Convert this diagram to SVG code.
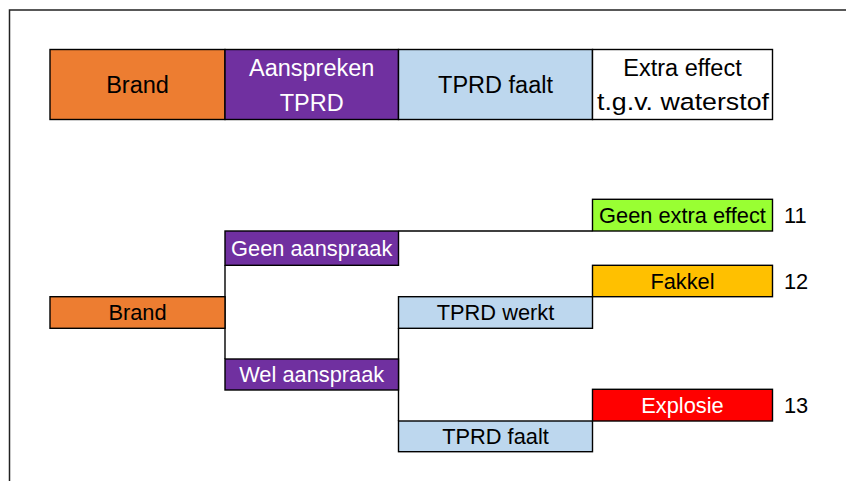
<svg xmlns="http://www.w3.org/2000/svg" width="846" height="481" viewBox="0 0 846 481">
<style>
.b{stroke:#000;stroke-width:1.4}
.t{font-family:"Liberation Sans",Arial,sans-serif;text-anchor:middle;fill:#000}
.h{font-size:23.5px}
.s{font-size:21.8px}
.w{fill:#fff}
.c{fill:none;stroke:#000;stroke-width:1.4}
</style>
<rect width="846" height="481" fill="#fff"/>
<path d="M9.5 481V10H846" fill="none" stroke="#222" stroke-width="1.5"/>
<g id="h-brand"><rect class="b" x="50" y="49.5" width="175" height="70" fill="#ED7D31"/><text class="t h" x="137.5" y="93">Brand</text></g>
<g id="h-aanspreken"><rect class="b" x="225" y="49.5" width="173.5" height="70" fill="#7030A0"/><text class="t h w" x="311.7" y="76">Aanspreken</text><text class="t h w" x="311.7" y="110.5">TPRD</text></g>
<g id="h-faalt"><rect class="b" x="398.5" y="49.5" width="194" height="70" fill="#BDD7EE"/><text class="t h" x="495.5" y="93">TPRD faalt</text></g>
<g id="h-extra"><rect class="b" x="592.5" y="49.5" width="180" height="70" fill="#fff"/><text class="t h" x="682.5" y="76">Extra effect</text><text class="t" style="font-size:24.5px" x="683" y="110" textLength="172" lengthAdjust="spacingAndGlyphs">t.g.v. waterstof</text></g>
<g id="connectors">
<path class="c" d="M398.5 231H592.5M225 265.3V359M398.5 328.3V421"/>
</g>
<g id="brand"><rect class="b" x="50" y="296.7" width="175" height="31.6" fill="#ED7D31"/><text class="t s" x="137.5" y="320">Brand</text></g>
<g id="geen-aanspraak"><rect class="b" x="225" y="231" width="173.5" height="34.3" fill="#7030A0"/><text class="t s w" x="311.7" y="256">Geen aanspraak</text></g>
<g id="wel-aanspraak"><rect class="b" x="225" y="359" width="173.5" height="31" fill="#7030A0"/><text class="t s w" x="311.7" y="382">Wel aanspraak</text></g>
<g id="tprd-werkt"><rect class="b" x="398.5" y="296.7" width="194" height="31.6" fill="#BDD7EE"/><text class="t s" x="495.5" y="320">TPRD werkt</text></g>
<g id="tprd-faalt"><rect class="b" x="398.5" y="421" width="194" height="30.7" fill="#BDD7EE"/><text class="t s" x="495.5" y="444">TPRD faalt</text></g>
<g id="geen-extra"><rect class="b" x="592.5" y="199.3" width="180" height="31.7" fill="#99FF33"/><text class="t s" x="682.5" y="223">Geen extra effect</text></g>
<g id="fakkel"><rect class="b" x="592.5" y="265.3" width="180" height="31.4" fill="#FFC000"/><text class="t s" x="682.5" y="289">Fakkel</text></g>
<g id="explosie"><rect class="b" x="592.5" y="389.3" width="180" height="31.7" fill="#FF0000"/><text class="t s w" x="682.5" y="413">Explosie</text></g>
<g id="numbers" class="t s" style="text-anchor:start">
<text x="784" y="223">11</text>
<text x="784" y="289">12</text>
<text x="784" y="413">13</text>
</g>
</svg>
